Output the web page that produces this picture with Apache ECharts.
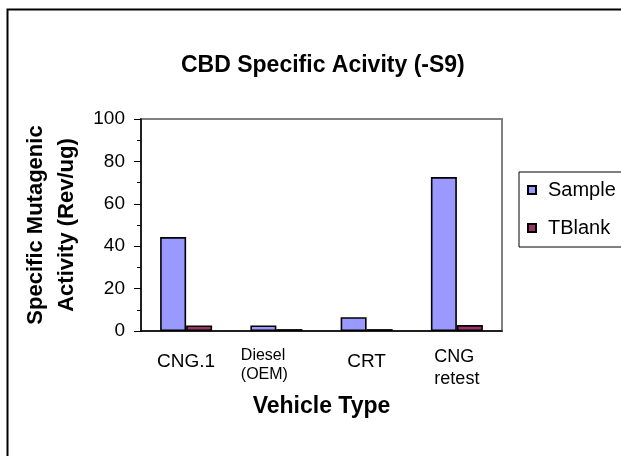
<!DOCTYPE html>
<html>
<head>
<meta charset="utf-8">
<script src="https://cdn.jsdelivr.net/npm/echarts@6/dist/echarts.min.js"></script>
<style>
  html, body { margin: 0; padding: 0; background: #fff; }
  #main { width: 621px; height: 456px; }
</style>
</head>
<body>
<div id="main"></div>
<script>
// vehicle types on the x axis
const categories = ['CNG.1', 'Diesel\n(OEM)', 'CRT', 'CNG\nretest'];
// specific mutagenic activity, Rev/ug
const sampleValues = [44.3, 2.6, 6.5, 72.6];
const tblankValues = [2.6, 0.9, 0.9, 2.8];
const yTicks = { min: 0, max: 100, step: 20 };

const font = 'Liberation Sans, Arial, Helvetica, sans-serif';

function catLabel(value) {
  const lines = value.split('\n');
  let key = 'one';
  if (value.indexOf('Diesel') === 0) key = 'small';
  else if (lines.length > 1) key = 'two';
  return lines.map(l => '{' + key + '|' + l + '}').join('\n');
}

const chart = echarts.init(document.getElementById('main'));
chart.setOption({
  backgroundColor: '#fff',
  animation: false,
  textStyle: { fontFamily: font },
  title: {
    text: 'CBD Specific Acivity (-S9)',
    left: 181,
    top: 54,
    padding: 0,
    textStyle: { fontSize: 23, fontWeight: 'bold', color: '#000', fontFamily: font }
  },
  graphic: [{
    type: 'rect',
    shape: { x: 7.5, y: 9.5, width: 800, height: 800 },
    style: { fill: 'none', stroke: '#000', lineWidth: 2 },
    silent: true
  }],
  legend: {
    orient: 'vertical',
    left: 519,
    top: 172,
    padding: [8, 40, 9, 8],
    itemGap: 18,
    itemWidth: 8,
    itemHeight: 8,
    icon: 'rect',
    borderColor: '#000',
    borderWidth: 1,
    textStyle: { fontSize: 20, color: '#000', lineHeight: 20, padding: [0, 0, 0, 7], fontFamily: font },
    data: ['Sample', 'TBlank']
  },
  grid: {
    left: 141, right: 119, top: 119, bottom: 125,
    show: true, borderColor: '#808080', borderWidth: 2, backgroundColor: '#fff'
  },
  xAxis: {
    type: 'category',
    data: categories,
    name: 'Vehicle Type',
    nameLocation: 'middle',
    nameGap: 64,
    nameTextStyle: { fontSize: 23, fontWeight: 'bold', color: '#000', fontFamily: font },
    axisLine: { lineStyle: { color: '#000', width: 1.5 } },
    axisTick: { length: 5, lineStyle: { color: '#000' } },
    axisLabel: {
      margin: 15,
      interval: 0,
      color: '#000',
      formatter: catLabel,
      rich: {
        one: { fontSize: 19, lineHeight: 32, color: '#000', fontFamily: font },
        small: { fontSize: 16, lineHeight: 19, color: '#000', align: 'left', padding: [0, 24, 0, 0], fontFamily: font },
        two: { fontSize: 18, lineHeight: 22, color: '#000', align: 'left', fontFamily: font }
      }
    }
  },
  yAxis: {
    type: 'value',
    min: yTicks.min,
    max: yTicks.max,
    interval: yTicks.step,
    name: 'Specific Mutagenic\nActivity (Rev/ug)',
    nameLocation: 'middle',
    nameGap: 58,
    nameTextStyle: { fontSize: 22, fontWeight: 'bold', color: '#000', lineHeight: 31, fontFamily: font },
    axisLine: { show: true, lineStyle: { color: '#000', width: 1.5 } },
    axisTick: { show: true, length: 7, lineStyle: { color: '#000' } },
    minorTick: { show: true, splitNumber: 2, length: 4, lineStyle: { color: '#000' } },
    splitLine: { show: false },
    axisLabel: { fontSize: 19, color: '#000', margin: 16, fontFamily: font }
  },
  series: [
    {
      name: 'Sample',
      type: 'bar',
      data: sampleValues,
      barWidth: 26,
      barGap: '0%',
      itemStyle: { color: '#9999FF', borderColor: '#000', borderWidth: 1.6 }
    },
    {
      name: 'TBlank',
      type: 'bar',
      data: tblankValues,
      barWidth: 26,
      barGap: '0%',
      itemStyle: { color: '#993366', borderColor: '#000', borderWidth: 1.6 }
    }
  ]
});
</script>
</body>
</html>
